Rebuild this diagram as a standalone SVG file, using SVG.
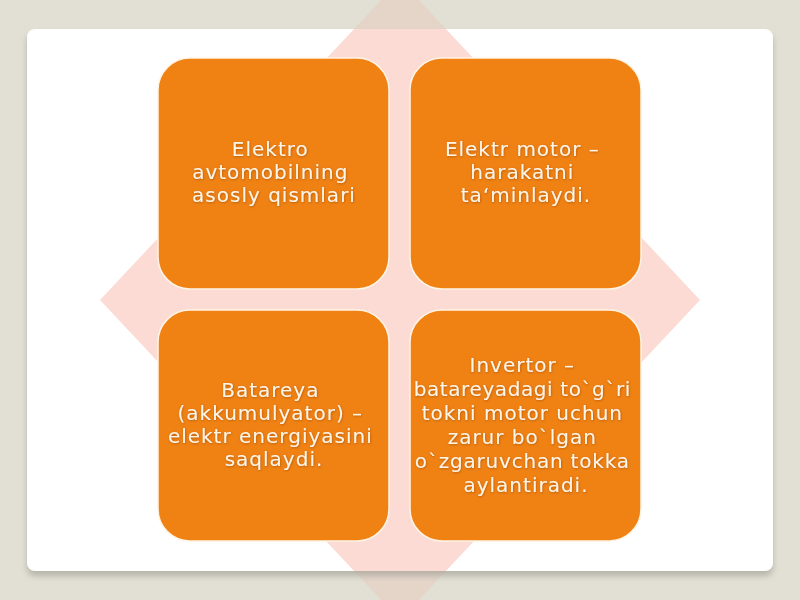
<svg xmlns="http://www.w3.org/2000/svg" width="800" height="600" viewBox="0 0 800 600">
  <defs>
    <filter id="cardShadow" x="-5%" y="-5%" width="110%" height="115%">
      <feDropShadow dx="0" dy="5" stdDeviation="3" flood-color="#9a9a90" flood-opacity="0.6"/>
    </filter>
    <filter id="txtShadow" x="-10%" y="-20%" width="120%" height="140%">
      <feDropShadow dx="0.5" dy="0.8" stdDeviation="0.8" flood-color="#9a4a00" flood-opacity="0.7"/>
    </filter>
    <clipPath id="cardClip">
      <rect x="27" y="29" width="746" height="542" rx="8" ry="8"/>
    </clipPath>
    <polygon id="diamond" points="400,-20 700,300 400,620 100,300"/>
  </defs>
  <style>
    .box { fill: #f08214; stroke: #fff4e4; stroke-width: 1.5; }
    .lbl { font-family: "DejaVu Sans", Verdana, sans-serif; font-size: 20px; letter-spacing: 1px; fill: #fff6e8; text-anchor: middle; }
  </style>
  <rect x="0" y="0" width="800" height="600" fill="#e2e0d4"/>
  <use href="#diamond" fill="#f49a88" fill-opacity="0.16"/>
  <rect x="27" y="29" width="746" height="542" rx="8" ry="8" fill="#ffffff" filter="url(#cardShadow)"/>
  <use href="#diamond" fill="#f49a88" fill-opacity="0.36" clip-path="url(#cardClip)"/>

  <g id="node-main">
    <rect class="box" x="158" y="58" width="231" height="231" rx="32" ry="32"/>
    <text class="lbl" filter="url(#txtShadow)">
      <tspan x="274" y="156">Elektro</tspan>
      <tspan x="274" y="179">avtomobilning</tspan>
      <tspan x="274" y="202">asosly qismlari</tspan>
    </text>
  </g>
  <g id="node-motor">
    <rect class="box" x="410" y="58" width="231" height="231" rx="32" ry="32"/>
    <text class="lbl" filter="url(#txtShadow)">
      <tspan x="526" y="156">Elektr motor –</tspan>
      <tspan x="526" y="179">harakatni</tspan>
      <tspan x="526" y="202">ta‘minlaydi.</tspan>
    </text>
  </g>
  <g id="node-battery">
    <rect class="box" x="158" y="310" width="231" height="231" rx="32" ry="32"/>
    <text class="lbl" filter="url(#txtShadow)">
      <tspan x="274" y="397">Batareya</tspan>
      <tspan x="274" y="420">(akkumulyator) –</tspan>
      <tspan x="274" y="443">elektr energiyasini</tspan>
      <tspan x="274" y="466">saqlaydi.</tspan>
    </text>
  </g>
  <g id="node-inverter">
    <rect class="box" x="410" y="310" width="231" height="231" rx="32" ry="32"/>
    <text class="lbl" filter="url(#txtShadow)">
      <tspan x="526" y="372">Invertor –</tspan>
      <tspan x="526" y="396" letter-spacing="0.6">batareyadagi to`g`ri</tspan>
      <tspan x="526" y="420">tokni motor uchun</tspan>
      <tspan x="526" y="444">zarur bo`lgan</tspan>
      <tspan x="526" y="468" letter-spacing="0.8">o`zgaruvchan tokka</tspan>
      <tspan x="526" y="492">aylantiradi.</tspan>
    </text>
  </g>
  <g id="connectors"></g>
</svg>
